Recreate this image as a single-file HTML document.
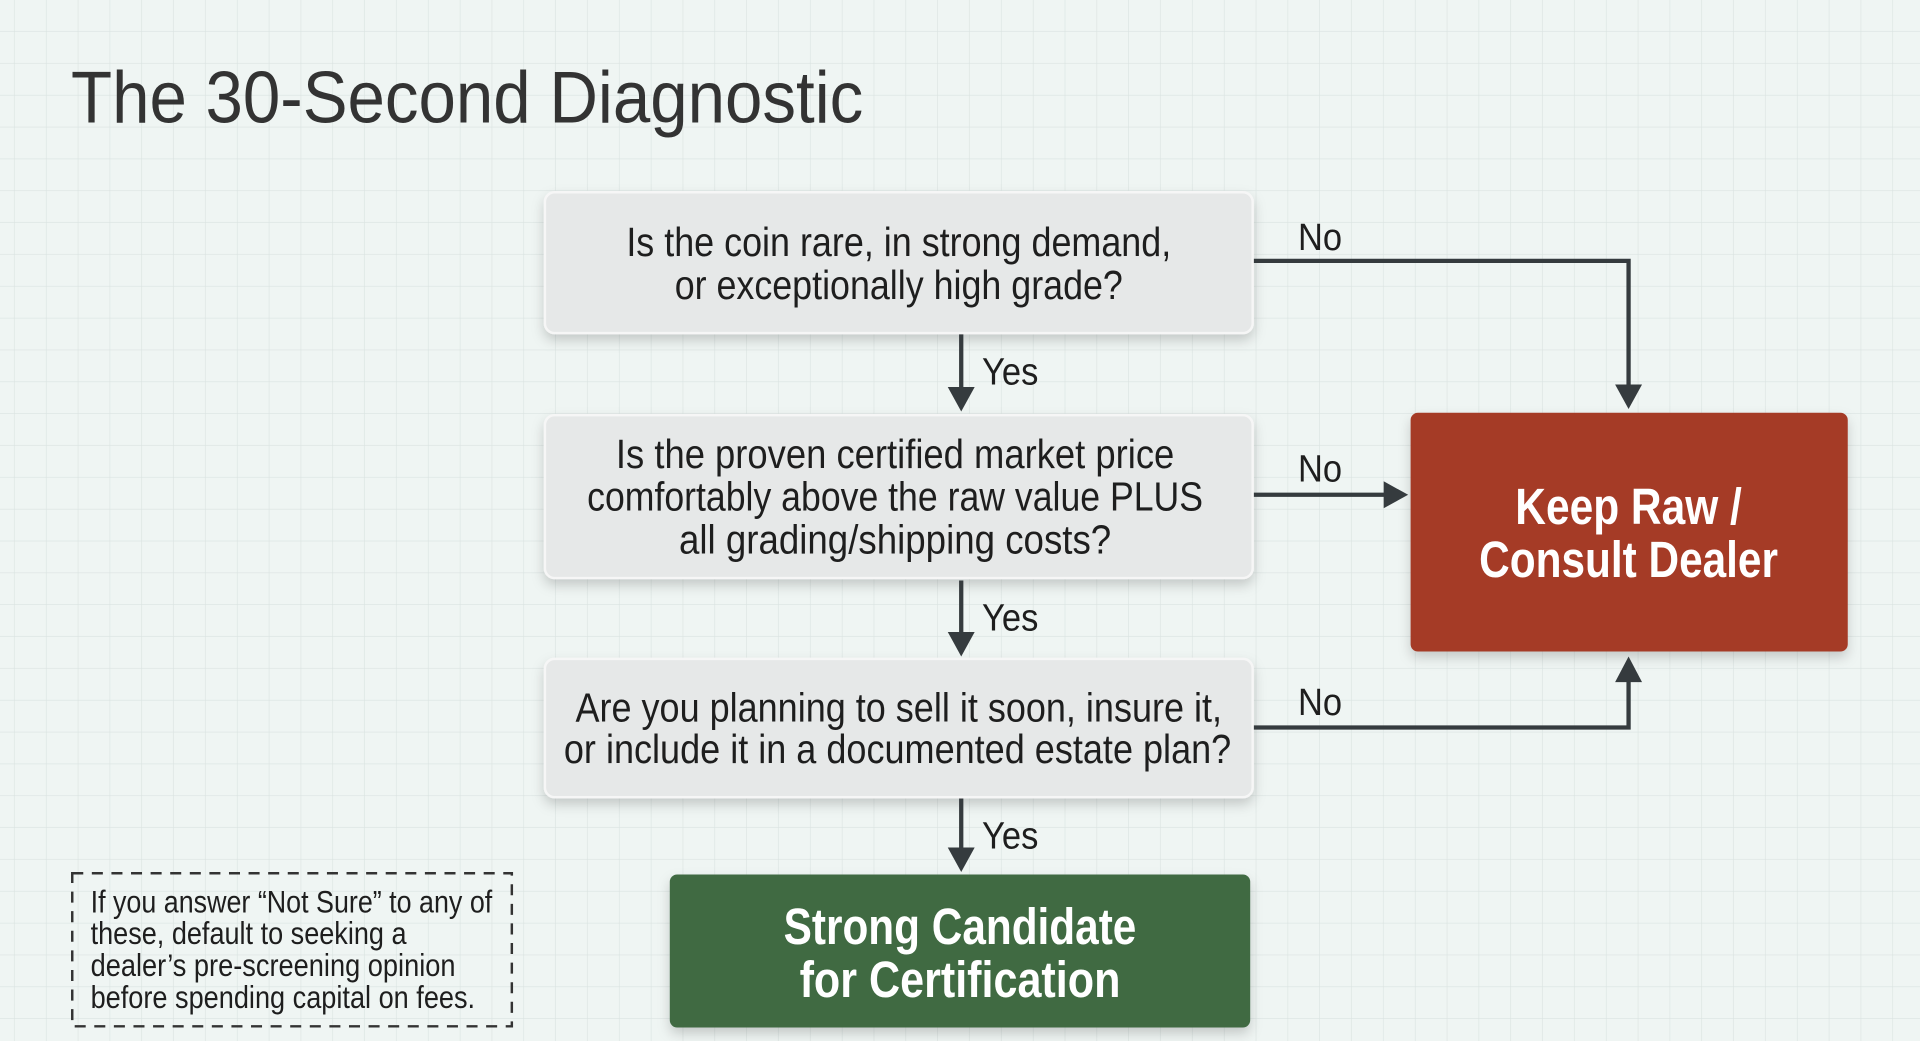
<!DOCTYPE html>
<html><head><meta charset="utf-8"><style>
html,body{margin:0;padding:0;background:#eff5f3;overflow:hidden}
svg{display:block}
text{font-family:"Liberation Sans",sans-serif}
</style></head><body>
<svg width="1920" height="1041" viewBox="0 0 1568 850" preserveAspectRatio="none" xmlns="http://www.w3.org/2000/svg">
<defs>
<pattern id="g" width="26" height="26" patternUnits="userSpaceOnUse" x="12" y="0">
<path d="M26 0V26M0 26H26" fill="none" stroke="#dae3e1" stroke-width="1"/>
</pattern>
<filter id="sh" x="-10%" y="-10%" width="120%" height="140%">
<feDropShadow dx="0" dy="5" stdDeviation="5" flood-color="#000" flood-opacity="0.18"/>
</filter>
</defs>
<rect width="1568" height="850" fill="#eff5f3"/>
<rect width="1568" height="850" fill="url(#g)"/>

<text x="58" y="100" font-size="60" fill="#333" textLength="647" lengthAdjust="spacingAndGlyphs">The 30-Second Diagnostic</text>

<rect x="445" y="157" width="578" height="115" rx="8" fill="#e6e8e8" stroke="#f6f6f6" stroke-width="2" filter="url(#sh)"/>
<g font-size="33" fill="#1e1e1e" text-anchor="middle">
<text x="734" y="209" textLength="445" lengthAdjust="spacingAndGlyphs">Is the coin rare, in strong demand,</text>
<text x="734" y="244" textLength="366" lengthAdjust="spacingAndGlyphs">or exceptionally high grade?</text>
</g>

<rect x="445" y="339" width="578" height="133" rx="8" fill="#e6e8e8" stroke="#f6f6f6" stroke-width="2" filter="url(#sh)"/>
<g font-size="33" fill="#1e1e1e" text-anchor="middle">
<text x="731" y="382" textLength="456" lengthAdjust="spacingAndGlyphs">Is the proven certified market price</text>
<text x="731" y="417" textLength="503" lengthAdjust="spacingAndGlyphs">comfortably above the raw value PLUS</text>
<text x="731" y="452" textLength="353" lengthAdjust="spacingAndGlyphs">all grading/shipping costs?</text>
</g>

<rect x="445" y="538" width="578" height="113" rx="8" fill="#e6e8e8" stroke="#f6f6f6" stroke-width="2" filter="url(#sh)"/>
<g font-size="33" fill="#1e1e1e" text-anchor="middle">
<text x="734" y="589" textLength="528" lengthAdjust="spacingAndGlyphs">Are you planning to sell it soon, insure it,</text>
<text x="733" y="623" textLength="545" lengthAdjust="spacingAndGlyphs">or include it in a documented estate plan?</text>
</g>

<rect x="547" y="714" width="474" height="125" rx="6" fill="#3f6b42" filter="url(#sh)"/>
<g font-size="42" font-weight="bold" fill="#fff" text-anchor="middle">
<text x="784" y="771" textLength="288" lengthAdjust="spacingAndGlyphs">Strong Candidate</text>
<text x="784" y="814" textLength="262" lengthAdjust="spacingAndGlyphs">for Certification</text>
</g>

<rect x="1152" y="337" width="357" height="195" rx="6" fill="#a53a28" filter="url(#sh)"/>
<g font-size="42" font-weight="bold" fill="#fff" text-anchor="middle">
<text x="1330" y="428" textLength="185" lengthAdjust="spacingAndGlyphs">Keep Raw /</text>
<text x="1330" y="471" textLength="244" lengthAdjust="spacingAndGlyphs">Consult Dealer</text>
</g>

<g stroke="#353b3e" stroke-width="3.5" fill="none">
<path d="M785 273V320"/>
<path d="M785 474V520"/>
<path d="M785 652V696"/>
<path d="M1024 213H1330V318"/>
<path d="M1024 404H1134"/>
<path d="M1024 594H1330V552"/>
</g>
<g fill="#353b3e">
<path d="M774 316L796 316L785 336Z"/>
<path d="M774 516L796 516L785 536Z"/>
<path d="M774 692L796 692L785 712Z"/>
<path d="M1319 314L1341 314L1330 334Z"/>
<path d="M1130 393L1130 415L1150 404Z"/>
<path d="M1319 557L1341 557L1330 536Z"/>
</g>
<g font-size="31" fill="#1e1e1e">
<text x="802" y="314" textLength="46" lengthAdjust="spacingAndGlyphs">Yes</text>
<text x="802" y="515" textLength="46" lengthAdjust="spacingAndGlyphs">Yes</text>
<text x="802" y="693" textLength="46" lengthAdjust="spacingAndGlyphs">Yes</text>
<text x="1060" y="204" textLength="36" lengthAdjust="spacingAndGlyphs">No</text>
<text x="1060" y="393" textLength="36" lengthAdjust="spacingAndGlyphs">No</text>
<text x="1060" y="584" textLength="36" lengthAdjust="spacingAndGlyphs">No</text>
</g>

<rect x="59" y="713" width="359" height="125" fill="none" stroke="#333" stroke-width="2" stroke-dasharray="9 7"/>
<g font-size="26" fill="#1e1e1e">
<text x="74" y="745" textLength="328" lengthAdjust="spacingAndGlyphs">If you answer “Not Sure” to any of</text>
<text x="74" y="771" textLength="258" lengthAdjust="spacingAndGlyphs">these, default to seeking a</text>
<text x="74" y="797" textLength="298" lengthAdjust="spacingAndGlyphs">dealer’s pre-screening opinion</text>
<text x="74" y="823" textLength="314" lengthAdjust="spacingAndGlyphs">before spending capital on fees.</text>
</g>
</svg>
</body></html>
